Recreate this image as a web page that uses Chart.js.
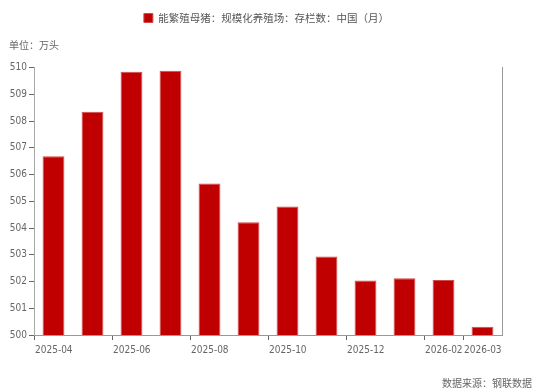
<!DOCTYPE html>
<html>
<head>
<meta charset="utf-8">
<script src="https://cdn.jsdelivr.net/npm/chart.js@4.4.1/dist/chart.umd.min.js"></script>
<style>
  html, body { margin: 0; padding: 0; background: #fff; }
  #wrap { position: relative; width: 537px; height: 390px; }
</style>
</head>
<body>
<div id="wrap"><canvas id="sows-chart" width="537" height="390"></canvas></div>
<script>
// 月度存栏（万头）
const months = ['2025-04', '2025-05', '2025-06', '2025-07', '2025-08', '2025-09',
  '2025-10', '2025-11', '2025-12', '2026-01', '2026-02', '2026-03'];
const sowStock = [506.69, 508.35, 509.85, 509.89, 505.67, 504.22,
  504.81, 502.94, 502.04, 502.12, 502.06, 500.31];
const seriesName = '能繁殖母猪：规模化养殖场：存栏数：中国（月）';
const unitText = '单位：万头';
const sourceText = '数据来源：钢联数据';
const yTicks = [500, 501, 502, 503, 504, 505, 506, 507, 508, 509, 510];
// x轴只在这些月份边界画刻度和标签
const shownMonthIdx = [0, 2, 4, 6, 8, 10, 11, 12];

const CJK = "'Noto Sans CJK SC', sans-serif";
const NARROW = "'Liberation Sans Narrow', 'Arial Narrow', 'DejaVu Sans Condensed', sans-serif";

// 右下角数据来源
const sourceNote = {
  id: 'sourceNote',
  afterDraw(chart) {
    const ctx = chart.ctx;
    ctx.save();
    ctx.fillStyle = '#666';
    ctx.font = '10px ' + CJK;
    ctx.textBaseline = 'middle';
    ctx.textAlign = 'right';
    ctx.fillText(sourceText, 532, 383);
    ctx.restore();
  }
};

function initSowChart() {
  if (typeof Chart === 'undefined') {
    console.error('Chart.js not loaded');
    return;
  }
  const canvas = document.getElementById('sows-chart');
  const ctx = canvas.getContext('2d');

  new Chart(ctx, {
    type: 'bar',
    data: {
      labels: months,
      datasets: [{
        label: seriesName,
        data: sowStock,
        backgroundColor: '#C00000',
        borderColor: '#D24A4A',
        borderWidth: 1,
        borderSkipped: 'bottom',
        barPercentage: 0.56,
        categoryPercentage: 1.0,
        yAxisID: 'y'
      }]
    },
    options: {
      responsive: false,
      animation: false,
      layout: { padding: { left: 9, right: 13, top: 0, bottom: 35 } },
      plugins: {
        legend: {
          display: true,
          position: 'top',
          weight: 3000,
          labels: {
            boxWidth: 9,
            boxHeight: 9,
            color: '#555',
            padding: 12.75,
            font: { size: 10.5, family: CJK }
          }
        },
        // 单位说明放在图例下方、左对齐
        title: {
          display: true,
          text: unitText,
          position: 'top',
          align: 'start',
          weight: 500,
          color: '#666',
          font: { size: 10, family: CJK, weight: 'normal' },
          padding: { top: 5.75, bottom: 16.7 }
        },
        tooltip: { enabled: false }
      },
      scales: {
        x: {
          type: 'category',
          offset: true,
          grid: {
            offset: true,
            drawOnChartArea: false,
            drawTicks: true,
            tickLength: 5,
            color: c => shownMonthIdx.includes(c.index) ? '#666' : 'rgba(0,0,0,0)'
          },
          border: { display: true, color: '#999', width: 1 },
          ticks: {
            autoSkip: false,
            maxRotation: 0,
            minRotation: 0,
            align: 'start',
            labelOffset: -18.5,
            padding: 4,
            color: '#666',
            font: { size: 10, family: NARROW },
            callback: (v, i) => shownMonthIdx.includes(i) ? months[i] : ''
          },
          afterFit: s => { s.height = 20; }
        },
        y: {
          position: 'left',
          min: 500,
          max: 510,
          afterBuildTicks: s => { s.ticks = yTicks.map(v => ({ value: v })); },
          grid: {
            drawOnChartArea: false,
            drawTicks: true,
            tickLength: 5,
            color: '#666'
          },
          border: { display: true, color: '#aaa', width: 1 },
          ticks: {
            padding: 2,
            color: '#666',
            font: { size: 10, family: NARROW }
          },
          afterFit: s => { s.width = 25; }
        },
        yRight: {
          position: 'right',
          min: 500,
          max: 510,
          grid: { display: false, drawTicks: false },
          border: { display: true, color: '#999', width: 1 },
          ticks: { display: false },
          afterFit: s => { s.width = 22; }
        }
      }
    },
    plugins: [sourceNote]
  });
}

document.addEventListener('DOMContentLoaded', initSowChart);
</script>
</body>
</html>
